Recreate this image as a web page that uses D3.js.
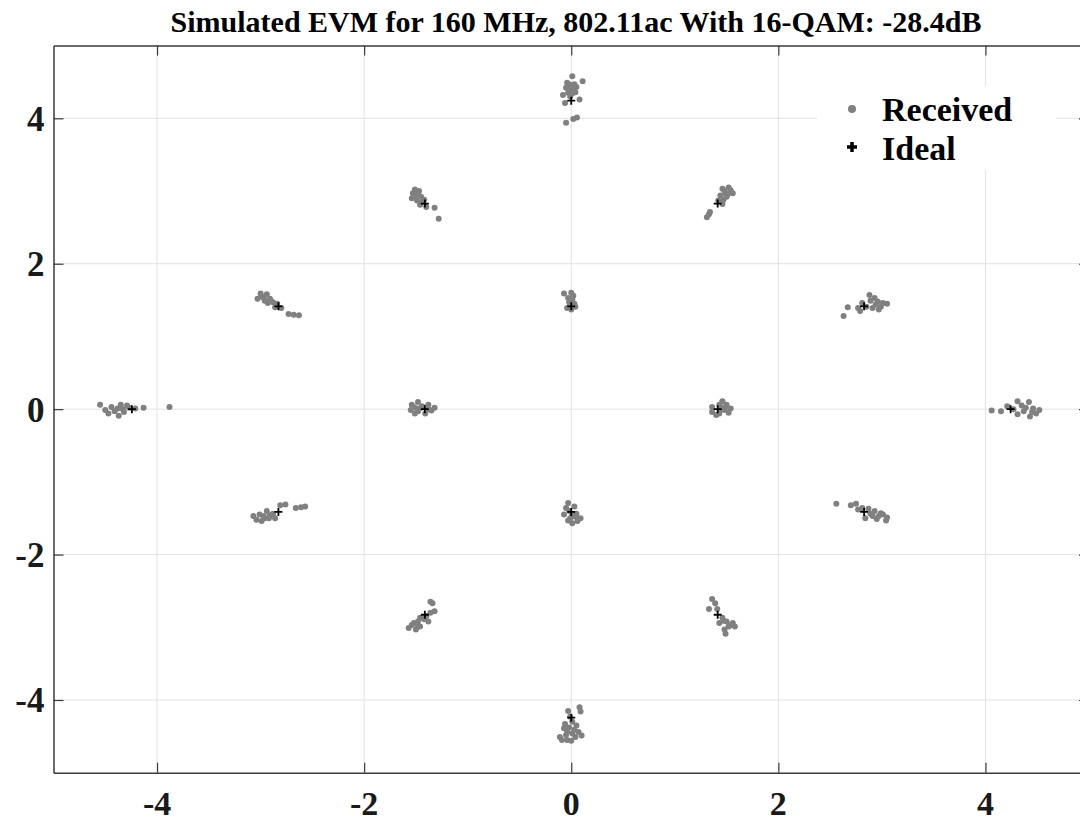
<!DOCTYPE html>
<html>
<head>
<meta charset="utf-8">
<script src="https://cdn.jsdelivr.net/npm/d3@7"></script>
<style>
  body { margin: 0; background: #ffffff; }
</style>
</head>
<body>
<div id="chart"></div>
<script>
// tick values
const xTicks = [-4, -2, 0, 2, 4];
const yTicks = [-4, -2, 0, 2, 4];

// ideal 16-point constellation [I, Q]
const idealPoints = [
  [0, 4.243],
  [-1.414, 2.828], [1.414, 2.828],
  [-2.828, 1.414], [0, 1.414], [2.828, 1.414],
  [-4.243, 0], [-1.414, 0], [1.414, 0], [4.243, 0],
  [-2.828, -1.414], [0, -1.414], [2.828, -1.414],
  [-1.414, -2.828], [1.414, -2.828],
  [0, -4.243]
];

// received symbols [I, Q]
const receivedTop = [
  [0.01, 4.58], [0.11, 4.51], [-0.04, 4.49], [-0.01, 4.46], [0.03, 4.47], [-0.05, 4.42],
  [-0.02, 4.39], [0.02, 4.40], [0.05, 4.43], [-0.03, 4.35], [0.01, 4.34], [0.04, 4.36],
  [-0.01, 4.30], [-0.08, 4.32], [-0.06, 4.21], [0.08, 4.26], [-0.05, 3.94], [0.02, 3.99],
  [0.055, 4.01]
];
const receivedUpper = [
  // (-1.41, 2.83)
  [-1.51, 3.02], [-1.54, 2.90], [-1.48, 2.97], [-1.45, 2.92], [-1.50, 2.94], [-1.44, 2.85],
  [-1.46, 2.81], [-1.40, 2.78], [-1.32, 2.77], [-1.28, 2.62], [-1.53, 2.97], [-1.47, 3.00],
  [-1.42, 2.88], [-1.49, 2.87], [-1.52, 2.93],
  // (1.41, 2.83)
  [1.52, 3.05], [1.56, 2.97], [1.46, 3.03], [1.44, 2.94], [1.49, 2.97], [1.47, 2.88],
  [1.42, 2.87], [1.50, 2.92], [1.46, 2.82], [1.34, 2.71], [1.31, 2.64], [1.33, 2.68],
  [1.54, 3.01], [1.48, 3.00], [1.51, 2.95]
];
const receivedRow1 = [
  // (-2.83, 1.41)
  [-3.00, 1.59], [-2.94, 1.58], [-3.03, 1.52], [-2.97, 1.53], [-2.91, 1.52], [-2.88, 1.47],
  [-2.93, 1.46], [-2.84, 1.45], [-2.80, 1.39], [-2.86, 1.40], [-2.96, 1.49], [-2.73, 1.31],
  [-2.68, 1.30], [-2.63, 1.29], [-2.99, 1.55], [-2.90, 1.49],
  // (0, 1.41)
  [-0.07, 1.59], [0.00, 1.60], [-0.03, 1.53], [0.01, 1.51], [-0.02, 1.47], [0.03, 1.45],
  [-0.04, 1.39], [0.04, 1.41], [0.00, 1.37], [0.02, 1.56], [-0.01, 1.44],
  // (2.83, 1.41)
  [2.63, 1.28], [2.67, 1.40], [2.77, 1.39], [2.81, 1.46], [2.88, 1.57], [2.89, 1.49],
  [2.93, 1.53], [2.96, 1.48], [2.99, 1.41], [3.05, 1.45], [2.91, 1.39], [2.97, 1.37],
  [2.85, 1.41], [2.79, 1.35], [2.94, 1.44], [3.01, 1.46]
];
const receivedRow0 = [
  // (-4.24, 0)
  [-4.55, 0.06], [-4.50, -0.01], [-4.44, 0.03], [-4.47, -0.06], [-4.38, 0.01], [-4.35, 0.06],
  [-4.32, -0.04], [-4.29, 0.05], [-4.37, -0.09], [-4.41, -0.03], [-4.21, 0.01], [-4.13, 0.02],
  [-3.88, 0.03], [-4.33, 0.00], [-4.27, 0.02],
  // (-1.41, 0)
  [-1.54, 0.06], [-1.48, 0.10], [-1.55, -0.01], [-1.51, -0.06], [-1.44, 0.04], [-1.38, 0.06],
  [-1.32, 0.02], [-1.35, -0.02], [-1.48, -0.03], [-1.41, -0.06], [-1.49, 0.01], [-1.38, 0.00],
  [-1.45, 0.02], [-1.52, 0.03],
  // (1.41, 0)
  [1.46, 0.11], [1.43, 0.06], [1.50, 0.06], [1.36, 0.03], [1.54, 0.01], [1.48, -0.01],
  [1.36, -0.04], [1.43, -0.06], [1.52, -0.05], [1.40, -0.08], [1.46, 0.02], [1.44, 0.00],
  [1.49, 0.03],
  // (4.24, 0)
  [4.06, -0.02], [4.15, -0.03], [4.21, 0.04], [4.31, 0.11], [4.35, 0.05], [4.42, 0.10],
  [4.46, 0.01], [4.49, -0.06], [4.43, -0.10], [4.52, -0.01], [4.37, -0.03], [4.31, -0.07],
  [4.39, 0.02], [4.27, 0.00], [4.45, -0.04]
];
const receivedRowM1 = [
  // (-2.83, -1.41)
  [-3.07, -1.47], [-3.04, -1.52], [-2.99, -1.54], [-3.01, -1.45], [-2.94, -1.40], [-2.92, -1.50],
  [-2.88, -1.44], [-2.96, -1.50], [-2.86, -1.50], [-2.81, -1.32], [-2.76, -1.31], [-2.66, -1.36],
  [-2.61, -1.35], [-2.57, -1.34], [-2.97, -1.47], [-2.91, -1.46],
  // (0, -1.41)
  [-0.03, -1.29], [-0.05, -1.36], [0.03, -1.34], [-0.07, -1.45], [0.05, -1.44], [0.09, -1.50],
  [-0.01, -1.50], [0.01, -1.57], [-0.03, -1.53], [0.06, -1.54], [0.01, -1.45], [-0.02, -1.40],
  [0.04, -1.48],
  // (2.83, -1.41)
  [2.56, -1.30], [2.70, -1.32], [2.75, -1.30], [2.77, -1.38], [2.81, -1.36], [2.87, -1.37],
  [2.89, -1.44], [2.93, -1.40], [2.97, -1.47], [3.01, -1.45], [3.05, -1.49], [3.04, -1.53],
  [2.95, -1.51], [2.84, -1.50], [2.91, -1.47], [2.99, -1.43]
];
const receivedLower = [
  // (-1.41, -2.83)
  [-1.36, -2.65], [-1.34, -2.67], [-1.32, -2.78], [-1.36, -2.80], [-1.40, -2.85], [-1.46, -2.87],
  [-1.48, -2.92], [-1.52, -2.94], [-1.57, -3.01], [-1.50, -3.03], [-1.46, -2.99], [-1.38, -2.92],
  [-1.42, -2.89], [-1.54, -2.97], [-1.49, -2.96],
  // (1.41, -2.83)
  [1.36, -2.61], [1.39, -2.67], [1.33, -2.75], [1.41, -2.75], [1.46, -2.87], [1.43, -2.94],
  [1.50, -2.92], [1.54, -2.97], [1.58, -2.99], [1.48, -3.03], [1.49, -3.09], [1.52, -2.99],
  [1.56, -2.94], [1.47, -2.91]
];
const receivedBottom = [
  [-0.03, -4.15], [0.08, -4.10], [0.09, -4.16], [-0.01, -4.23], [-0.06, -4.33], [0.01, -4.30],
  [0.05, -4.35], [-0.07, -4.39], [-0.04, -4.44], [0.01, -4.46], [0.07, -4.44], [0.04, -4.51],
  [-0.11, -4.51], [-0.04, -4.55], [0.10, -4.49], [-0.09, -4.55], [0.00, -4.56], [-0.02, -4.38],
  [0.03, -4.41], [-0.05, -4.48]
];

const receivedPoints = [].concat(receivedTop, receivedUpper, receivedRow1,
  receivedRow0, receivedRowM1, receivedLower, receivedBottom);

const legendLabels = ["Received", "Ideal"];

function createConstellation() {
  const width = 1080;
  const height = 823;
  // plot box (right edge sits just outside the window, as in the reference)
  const box = { left: 53.5, right: 1089, top: 45.6, bottom: 772.7 };

  const serif = "'Liberation Serif', 'Times New Roman', Times, serif";
  const axisColor = "#3a3a3a";
  const gridColor = "#e2e2e2";

  const svg = d3.select("#chart")
    .append("svg")
    .attr("width", width)
    .attr("height", height)
    .style("background", "#ffffff");

  // scales
  const x = d3.scaleLinear()
    .domain([-5, 5])
    .range([box.left, box.right]);

  const y = d3.scaleLinear()
    .domain([-5, 5])
    .range([box.bottom, box.top]);

  // grid lines
  const grid = svg.append("g").attr("class", "grid");
  grid.selectAll(".gx")
    .data(xTicks)
    .join("line")
    .attr("x1", d => x(d))
    .attr("x2", d => x(d))
    .attr("y1", box.top)
    .attr("y2", box.bottom)
    .attr("stroke", gridColor)
    .attr("stroke-width", 1);
  grid.selectAll(".gy")
    .data(yTicks)
    .join("line")
    .attr("x1", box.left)
    .attr("x2", box.right)
    .attr("y1", d => y(d))
    .attr("y2", d => y(d))
    .attr("stroke", gridColor)
    .attr("stroke-width", 1);

  // axes, ticks pointing inward on all four sides
  const styleAxis = g => {
    g.select(".domain").attr("stroke", axisColor).attr("stroke-width", 1.5);
    g.selectAll(".tick line").attr("stroke", axisColor).attr("stroke-width", 1.2);
  };

  svg.append("g")
    .attr("transform", `translate(0, ${box.bottom})`)
    .call(d3.axisBottom(x).tickValues(xTicks).tickSizeInner(-10).tickSizeOuter(0).tickFormat(""))
    .call(styleAxis);

  svg.append("g")
    .attr("transform", `translate(0, ${box.top})`)
    .call(d3.axisTop(x).tickValues(xTicks).tickSizeInner(-10).tickSizeOuter(0).tickFormat(""))
    .call(styleAxis);

  svg.append("g")
    .attr("transform", `translate(${box.left}, 0)`)
    .call(d3.axisLeft(y).tickValues(yTicks).tickSizeInner(-10).tickSizeOuter(0).tickFormat(""))
    .call(styleAxis);

  svg.append("g")
    .attr("transform", `translate(${box.right}, 0)`)
    .call(d3.axisRight(y).tickValues(yTicks).tickSizeInner(-10).tickSizeOuter(0).tickFormat(""))
    .call(styleAxis);

  // tick labels
  svg.append("g")
    .selectAll("text")
    .data(xTicks)
    .join("text")
    .attr("x", d => x(d))
    .attr("y", box.bottom + 42)
    .attr("text-anchor", "middle")
    .style("font-family", serif)
    .style("font-weight", "bold")
    .style("font-size", "34px")
    .style("fill", "#1a1a1a")
    .text(d => d);

  svg.append("g")
    .selectAll("text")
    .data(yTicks)
    .join("text")
    .attr("x", box.left - 9)
    .attr("y", d => y(d) + 12.5)
    .attr("text-anchor", "end")
    .style("font-family", serif)
    .style("font-weight", "bold")
    .style("font-size", "35px")
    .style("fill", "#1a1a1a")
    .text(d => d);

  // title
  svg.append("text")
    .attr("x", 576)
    .attr("y", 32)
    .attr("text-anchor", "middle")
    .style("font-family", serif)
    .style("font-weight", "bold")
    .style("font-size", "30px")
    .style("fill", "#000000")
    .text("Simulated EVM for 160 MHz, 802.11ac With 16-QAM: -28.4dB");

  // received symbols
  svg.append("g")
    .selectAll("circle")
    .data(receivedPoints)
    .join("circle")
    .attr("cx", d => x(d[0]))
    .attr("cy", d => y(d[1]))
    .attr("r", 3)
    .attr("fill", "#808080");

  // ideal symbols as plus markers
  const plus = (px, py, s) => `M${px - s},${py}H${px + s}M${px},${py - s}V${py + s}`;
  svg.append("g")
    .selectAll("path")
    .data(idealPoints)
    .join("path")
    .attr("d", d => plus(x(d[0]), y(d[1]), 4))
    .attr("stroke", "#000000")
    .attr("stroke-width", 1.8)
    .attr("fill", "none");

  // legend
  const legend = svg.append("g");
  legend.append("rect")
    .attr("x", 817)
    .attr("y", 86)
    .attr("width", 239)
    .attr("height", 84)
    .attr("fill", "#ffffff");

  legend.append("circle")
    .attr("cx", 852)
    .attr("cy", 109)
    .attr("r", 4)
    .attr("fill", "#808080");

  legend.append("path")
    .attr("d", plus(852, 147, 5))
    .attr("stroke", "#000000")
    .attr("stroke-width", 3.5)
    .attr("fill", "none");

  legendLabels.forEach((label, i) => {
    legend.append("text")
      .attr("x", 882)
      .attr("y", 121 + i * 39)
      .style("font-family", serif)
      .style("font-weight", "bold")
      .style("font-size", "34px")
      .style("fill", "#000000")
      .text(label);
  });
}

createConstellation();
</script>
</body>
</html>
